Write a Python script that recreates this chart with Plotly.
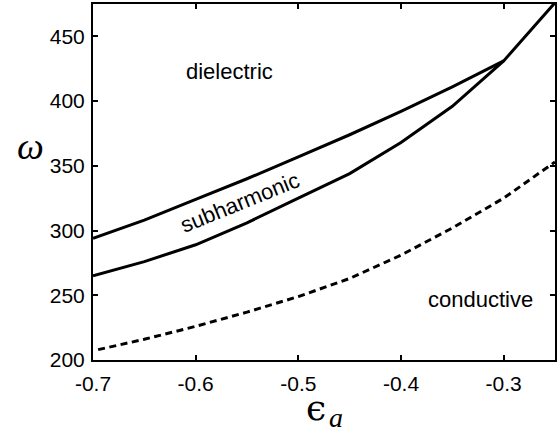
import plotly.graph_objects as go

# Data
eps_upper = [-0.70, -0.65, -0.60, -0.55, -0.50, -0.45, -0.40, -0.35, -0.30]
omega_upper = [294, 308, 324, 340, 357, 374, 392, 411, 431]

eps_lower = [-0.70, -0.65, -0.60, -0.55, -0.50, -0.45, -0.40, -0.35, -0.30, -0.25]
omega_lower = [265, 276, 289, 306, 325, 344, 368, 396, 431, 476]

eps_cond = [-0.695, -0.65, -0.60, -0.55, -0.50, -0.45, -0.40, -0.35, -0.30, -0.25]
omega_cond = [208, 216, 226, 237, 249, 263, 281, 302, 325, 353]

x_ticks = [-0.7, -0.6, -0.5, -0.4, -0.3]
x_ticklabels = ["-0.7", "-0.6", "-0.5", "-0.4", "-0.3"]
y_ticks = [200, 250, 300, 350, 400, 450]
y_ticklabels = ["200", "250", "300", "350", "400", "450"]

region_labels = ["dielectric", "subharmonic", "conductive"]
region_x = [-0.567, -0.557, -0.323]
region_y = [423, 321.5, 246.5]
region_angle = [0, -22, 0]

FONT = "Liberation Sans, Arial, Helvetica, sans-serif"

fig = go.Figure()
fig.add_trace(go.Scatter(x=eps_upper, y=omega_upper, mode="lines",
                         line=dict(color="black", width=3), showlegend=False))
fig.add_trace(go.Scatter(x=eps_lower, y=omega_lower, mode="lines",
                         line=dict(color="black", width=3), showlegend=False))
fig.add_trace(go.Scatter(x=eps_cond, y=omega_cond, mode="lines",
                         line=dict(color="black", width=3, dash="7px,4.5px"),
                         showlegend=False))

for t, x, y, a in zip(region_labels, region_x, region_y, region_angle):
    fig.add_annotation(x=x, y=y, xref="x", yref="y", text=t, showarrow=False,
                       textangle=a, font=dict(family=FONT, size=22, color="black"))

fig.add_annotation(x=-0.168, y=0.60, xref="paper", yref="paper", text="<i>ω</i>",
                   showarrow=False,
                   font=dict(family="Liberation Serif, serif", size=38, color="black"))
fig.add_annotation(x=0.483, y=-0.197, xref="paper", yref="paper", text="ϵ",
                   showarrow=False,
                   font=dict(family="DejaVu Serif, serif", size=36, color="black"))
fig.add_annotation(x=0.526, y=-0.212, xref="paper", yref="paper", text="<i>a</i>",
                   showarrow=False,
                   font=dict(family="Liberation Serif, serif", size=28, color="black"))

axis_common = dict(showgrid=False, zeroline=False, showline=True, linecolor="black",
                   linewidth=2, mirror="ticks", ticks="inside", ticklen=5,
                   tickwidth=1.5, tickcolor="black",
                   tickfont=dict(family=FONT, size=21, color="black"))

fig.update_xaxes(range=[-0.70, -0.25], tickvals=x_ticks, ticktext=x_ticklabels,
                 ticklabelstandoff=4, **axis_common)
fig.update_yaxes(range=[200, 475], tickvals=y_ticks, ticktext=y_ticklabels,
                 ticklabelstandoff=2, **axis_common)

fig.update_layout(width=558, height=434, plot_bgcolor="white", paper_bgcolor="white",
                  margin=dict(l=93, r=1, t=4, b=74))

fig.write_html("out.html")
